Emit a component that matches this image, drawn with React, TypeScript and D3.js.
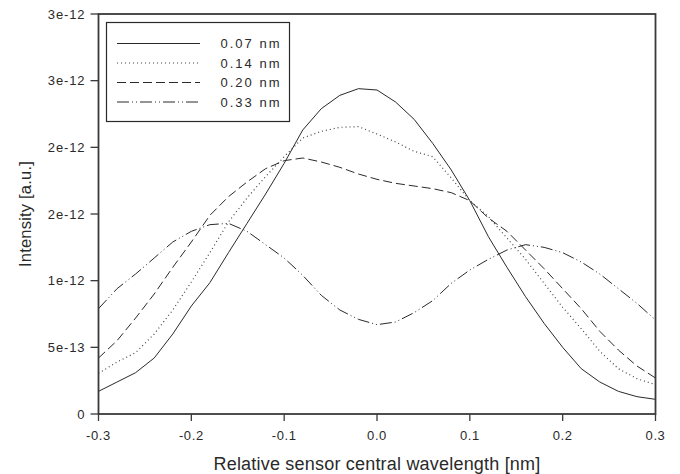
import React from "react";
import * as d3 from "d3";

const xValues = [-0.3, -0.28, -0.26, -0.24, -0.22, -0.2, -0.18, -0.16, -0.14, -0.12, -0.1, -0.08, -0.06, -0.04, -0.02, 0, 0.02, 0.04, 0.06, 0.08, 0.1, 0.12, 0.14, 0.16, 0.18, 0.2, 0.22, 0.24, 0.26, 0.28, 0.3];

// values in units of 1e-12
const s007 = [0.17, 0.24, 0.31, 0.42, 0.6, 0.81, 0.985, 1.21, 1.43, 1.65, 1.88, 2.13, 2.29, 2.39, 2.44, 2.43, 2.34, 2.21, 2.03, 1.83, 1.6, 1.33, 1.1, 0.88, 0.68, 0.5, 0.34, 0.24, 0.17, 0.13, 0.11];
const s014 = [0.305, 0.39, 0.46, 0.6, 0.78, 0.99, 1.21, 1.44, 1.62, 1.78, 1.93, 2.07, 2.12, 2.15, 2.155, 2.1, 2.04, 1.97, 1.93, 1.77, 1.6, 1.48, 1.32, 1.16, 0.98, 0.8, 0.64, 0.47, 0.34, 0.265, 0.22];
const s020 = [0.42, 0.55, 0.72, 0.9, 1.1, 1.29, 1.49, 1.63, 1.74, 1.84, 1.9, 1.92, 1.89, 1.85, 1.8, 1.76, 1.73, 1.71, 1.69, 1.66, 1.6, 1.47, 1.37, 1.23, 1.09, 0.94, 0.79, 0.62, 0.48, 0.36, 0.27];
const s033 = [0.79, 0.94, 1.05, 1.17, 1.29, 1.37, 1.42, 1.43, 1.37, 1.27, 1.17, 1.04, 0.89, 0.78, 0.71, 0.67, 0.69, 0.76, 0.85, 0.98, 1.08, 1.16, 1.23, 1.27, 1.25, 1.21, 1.14, 1.05, 0.94, 0.83, 0.705];

const seriesNames = ["0.07 nm", "0.14 nm", "0.20 nm", "0.33 nm"];
const xTicks = [-0.3, -0.2, -0.1, 0, 0.1, 0.2, 0.3];
const xTickLabels = ["-0.3", "-0.2", "-0.1", "0.0", "0.1", "0.2", "0.3"];
const yTicks = [0, 5e-13, 1e-12, 1.5e-12, 2e-12, 2.5e-12, 3e-12];
const yTickLabels = ["0", "5e-13", "1e-12", "2e-12", "2e-12", "3e-12", "3e-12"];

const dashes = ["none", "1,3", "9,4", "12,3,1,3,1,3"];

export default function App() {
  const W = 680, H = 474;
  const left = 98.5, right = 655.5, top = 14, bottom = 414;
  const x = d3.scaleLinear().domain([-0.3, 0.3]).range([left, right]);
  const y = d3.scaleLinear().domain([0, 3e-12]).range([bottom, top]);
  const all = [s007, s014, s020, s033];
  const line = d3
    .line<[number, number]>()
    .x((d) => x(d[0]))
    .y((d) => y(d[1] * 1e-12));
  const font = "'Liberation Sans', Arial, sans-serif";
  const ink = "#2a2a2a";
  return (
    <svg width={W} height={H} style={{ position: "absolute", left: 0, top: 0, background: "#fff" }} fontFamily={font}>
      {all.map((s, i) => (
        <path
          key={i}
          d={line(xValues.map((xv, j) => [xv, s[j]] as [number, number])) || ""}
          fill="none"
          stroke={i === 1 ? "#444" : ink}
          strokeWidth={i === 1 ? 1.2 : 1}
          strokeDasharray={dashes[i]}
        />
      ))}
      {/* frame */}
      <rect x={left} y={top} width={right - left} height={bottom - top} fill="none" stroke="#3a3a3a" strokeWidth={1.8} />
      {/* y ticks */}
      {yTicks.map((t, i) => (
        <g key={"y" + i}>
          <line x1={left - 8} x2={left} y1={y(t)} y2={y(t)} stroke="#3a3a3a" strokeWidth={1.3} />
          <text x={left - 13} y={y(t)} dy="0.36em" textAnchor="end" fontSize={13} letterSpacing={0.9} fill={ink}>
            {yTickLabels[i]}
          </text>
        </g>
      ))}
      {/* x ticks */}
      {xTicks.map((t, i) => (
        <g key={"x" + i}>
          <line x1={x(t)} x2={x(t)} y1={bottom} y2={bottom + 7} stroke="#3a3a3a" strokeWidth={1.3} />
          <text x={x(t)} y={bottom + 26} textAnchor="middle" fontSize={13} letterSpacing={0.6} fill={ink}>
            {xTickLabels[i]}
          </text>
        </g>
      ))}
      <text x={(left + right) / 2} y={470} textAnchor="middle" fontSize={18} letterSpacing={0.2} fill={ink}>
        Relative sensor central wavelength [nm]
      </text>
      <text
        transform={`translate(31,${(top + bottom) / 2}) rotate(-90)`}
        textAnchor="middle"
        fontSize={16.5}
        letterSpacing={0.2}
        fill={ink}
      >
        Intensity [a.u.]
      </text>
      {/* legend */}
      <rect x={106.5} y={22.5} width={183} height={99} fill="#fff" stroke={ink} strokeWidth={1.2} />
      {seriesNames.map((n, i) => {
        const ly = 43.5 + i * 19.5;
        return (
          <g key={"l" + i}>
            <line x1={117} x2={200} y1={ly} y2={ly} stroke={i === 1 ? "#444" : ink} strokeWidth={i === 1 ? 1.2 : 1} strokeDasharray={dashes[i]} />
            <text x={220.5} y={ly} dy="0.36em" fontSize={13} letterSpacing={2} fill={ink}>
              {n}
            </text>
          </g>
        );
      })}
    </svg>
  );
}
